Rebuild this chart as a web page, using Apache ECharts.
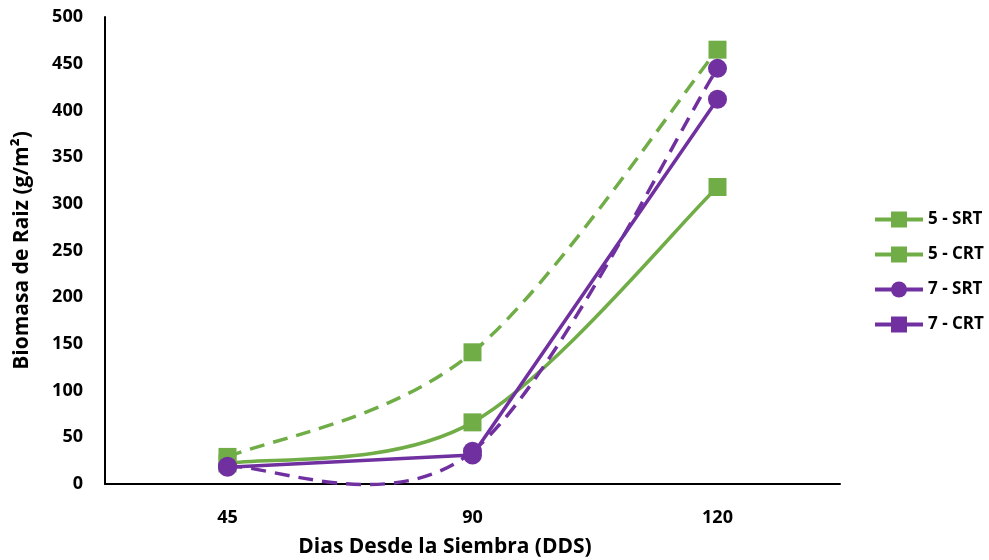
<!DOCTYPE html>
<html>
<head>
<meta charset="utf-8">
<script src="https://cdn.jsdelivr.net/npm/echarts@6/dist/echarts.min.js"></script>
<style>html,body{margin:0;padding:0;background:#fff}#c{width:989px;height:560px}</style>
</head>
<body>
<div id="c"></div>
<script>
const categories = ['45', '90', '120'];
const srt5 = [29, 141, 465];
const crt5 = [22, 66, 318];
const srt7 = [19, 35, 445];
const crt7 = [18, 31, 412];
const yTicks = {min: 0, max: 500, interval: 50};

const green = '#70AD47', purple = '#7030A0';
const font = '"Open Sans", "Liberation Sans", sans-serif';
const dash = [15, 9];

// Excel-style smoothed curve (Catmull-Rom Bezier, 1/6 tangents) drawn through api.coord
function smoothCurve(values, color, lineDash) {
  return {
    type: 'custom', coordinateSystem: 'cartesian2d', silent: true, z: 1,
    data: values.map((v, i) => [i, v]),
    encode: {x: 0, y: 1},
    renderItem: function (params, api) {
      const i = params.dataIndex;
      if (i >= values.length - 1) return null;
      const P = k => {
        const kk = Math.max(0, Math.min(values.length - 1, k));
        return api.coord([kk, values[kk]]);
      };
      const p0 = P(i - 1), p1 = P(i), p2 = P(i + 1), p3 = P(i + 2);
      return {
        type: 'bezierCurve',
        shape: {
          x1: p1[0], y1: p1[1], x2: p2[0], y2: p2[1],
          cpx1: p1[0] + (p2[0] - p0[0]) / 6, cpy1: p1[1] + (p2[1] - p0[1]) / 6,
          cpx2: p2[0] - (p3[0] - p1[0]) / 6, cpy2: p2[1] - (p3[1] - p1[1]) / 6
        },
        style: {stroke: color, fill: null, lineWidth: 3.5, lineDash: lineDash || null}
      };
    }
  };
}

const markerLine = {width: 0, opacity: 0};
const chart = echarts.init(document.getElementById('c'));
chart.setOption({
  animation: false,
  grid: {left: 105, right: 149, top: 17, bottom: 76, outerBoundsMode: 'none', containLabel: false},
  legend: {
    orient: 'vertical', left: 868, top: 206, itemGap: 18,
    itemWidth: 48, itemHeight: 20,
    textStyle: {fontFamily: font, fontWeight: 'bold', fontSize: 17, color: '#000'},
    lineStyle: {type: 'solid', opacity: 1, width: 4},
    data: ['5 - SRT', '5 - CRT', '7 - SRT', '7 - CRT']
  },
  xAxis: {
    type: 'category', data: categories, boundaryGap: true,
    axisLine: {lineStyle: {color: '#000', width: 2}},
    axisTick: {show: false},
    axisLabel: {fontFamily: font, fontWeight: 'bold', fontSize: 18, color: '#000', margin: 25},
    name: 'Dias Desde la Siembra (DDS)', nameLocation: 'middle', nameGap: 53,
    nameTextStyle: {fontFamily: font, fontWeight: 'bold', fontSize: 21, color: '#000', padding: [0, 55, 0, 0]}
  },
  yAxis: {
    type: 'value', min: yTicks.min, max: yTicks.max, interval: yTicks.interval,
    splitLine: {show: false},
    axisLine: {show: true, lineStyle: {color: '#000', width: 2}},
    axisTick: {show: false},
    axisLabel: {fontFamily: font, fontWeight: 'bold', fontSize: 18, color: '#000', margin: 22},
    name: 'Biomasa de Raiz (g/m²)', nameLocation: 'middle', nameGap: 72,
    nameTextStyle: {fontFamily: font, fontWeight: 'bold', fontSize: 21, color: '#000'}
  },
  series: [
    {name: '5 - SRT', type: 'line', data: srt5, symbol: 'rect', symbolSize: 18,
     itemStyle: {color: green}, lineStyle: Object.assign({color: green}, markerLine), z: 2},
    {name: '5 - CRT', type: 'line', data: crt5, symbol: 'rect', symbolSize: 18,
     itemStyle: {color: green}, lineStyle: Object.assign({color: green}, markerLine), z: 2},
    {name: '7 - SRT', type: 'line', data: srt7, symbol: 'circle', symbolSize: 19,
     itemStyle: {color: purple}, lineStyle: Object.assign({color: purple}, markerLine), z: 3},
    {name: '7 - CRT', type: 'line', data: crt7.map(v => ({value: v, symbol: 'circle'})),
     symbol: 'rect', symbolSize: 19,
     itemStyle: {color: purple}, lineStyle: {color: purple, width: 3.5}, z: 3},
    smoothCurve(srt5, green, dash),
    smoothCurve(crt5, green, null),
    smoothCurve(srt7, purple, dash)
  ]
});
</script>
</body>
</html>
